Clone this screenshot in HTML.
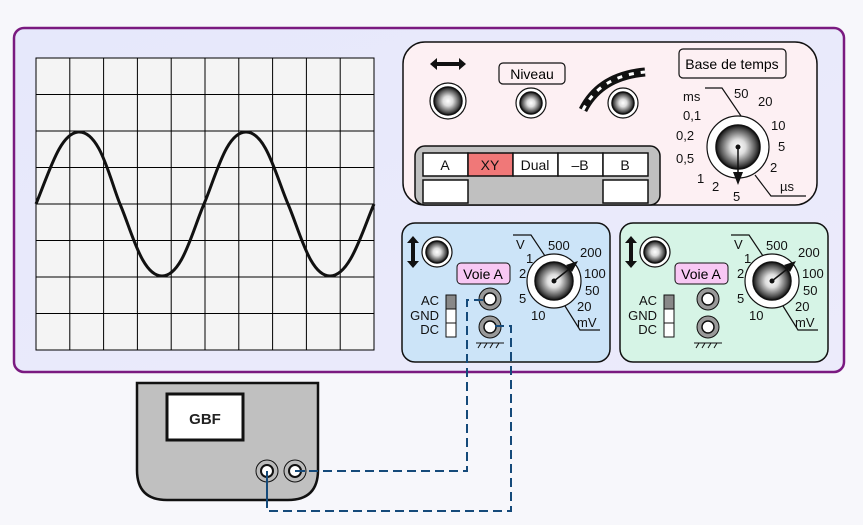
<!DOCTYPE html>
<html><head><meta charset="utf-8"><style>
html,body{margin:0;padding:0;background:#f7f7fb;}
svg{display:block;font-family:"Liberation Sans",sans-serif;}
</style></head><body>
<svg width="863" height="525" viewBox="0 0 863 525" xmlns="http://www.w3.org/2000/svg">
<defs>
<radialGradient id="kg" cx="50%" cy="50%" r="50%">
<stop offset="0" stop-color="#fff"/><stop offset="0.35" stop-color="#ddd"/><stop offset="0.8" stop-color="#555"/><stop offset="1" stop-color="#111"/>
</radialGradient>
<linearGradient id="bg" x1="0" y1="0" x2="1" y2="1"><stop offset="0" stop-color="#e6e8fb"/><stop offset="1" stop-color="#ecebfb"/></linearGradient>
</defs>
<rect width="863" height="525" fill="#f7f7fb"/>
<rect x="14" y="28" width="830" height="344" rx="10" fill="url(#bg)" stroke="#7a1a80" stroke-width="2.5"/>
<!-- screen -->
<rect x="36" y="58" width="338" height="292" fill="#f4f4f4" stroke="#000" stroke-width="1"/>
<g stroke="#000" stroke-width="1">
<line x1="69.8" y1="58" x2="69.8" y2="350"/><line x1="103.6" y1="58" x2="103.6" y2="350"/><line x1="137.4" y1="58" x2="137.4" y2="350"/><line x1="171.2" y1="58" x2="171.2" y2="350"/><line x1="205" y1="58" x2="205" y2="350"/><line x1="238.8" y1="58" x2="238.8" y2="350"/><line x1="272.6" y1="58" x2="272.6" y2="350"/><line x1="306.4" y1="58" x2="306.4" y2="350"/><line x1="340.2" y1="58" x2="340.2" y2="350"/>
<line x1="36" y1="94.5" x2="374" y2="94.5"/><line x1="36" y1="131" x2="374" y2="131"/><line x1="36" y1="167.5" x2="374" y2="167.5"/><line x1="36" y1="204" x2="374" y2="204"/><line x1="36" y1="240.5" x2="374" y2="240.5"/><line x1="36" y1="277" x2="374" y2="277"/><line x1="36" y1="313.5" x2="374" y2="313.5"/>
</g>
<path d="M36,204 C50,170 60,134 78,132 C100,130 110,180 120,204 C132,232 142,276 162,276 C182,276 192,232 204,204 C216,176 226,132 246,132 C266,132 276,176 288,204 C300,232 310,276 330,276 C350,276 362,232 374,204" fill="none" stroke="#111" stroke-width="3"/>
<!-- top panel -->
<rect x="403" y="42" width="414" height="163" rx="22" fill="#fdf0f3" stroke="#111" stroke-width="1.5"/>
<path d="M430,64 L437,58 L437,62 L459,62 L459,58 L466,64 L459,70 L459,66 L437,66 L437,70 Z" fill="#111"/>
<g stroke="#111">
<circle cx="448" cy="101" r="18" fill="#fff" stroke-width="1.2"/><circle cx="448" cy="101" r="14" fill="url(#kg)" stroke-width="1.5"/>
<circle cx="531" cy="103" r="15" fill="#fff" stroke-width="1.2"/><circle cx="531" cy="103" r="11" fill="url(#kg)" stroke-width="1.5"/>
<circle cx="623" cy="103" r="15" fill="#fff" stroke-width="1.2"/><circle cx="623" cy="103" r="11" fill="url(#kg)" stroke-width="1.5"/>
</g>
<rect x="499" y="63" width="66" height="21" rx="4" fill="#fdf0f3" stroke="#111" stroke-width="1.2"/>
<text x="532" y="79" font-size="14" text-anchor="middle">Niveau</text>
<path d="M583,110 Q600,76 645,72" fill="none" stroke="#111" stroke-width="9"/>
<path d="M583,110 Q600,76 645,72" fill="none" stroke="#fff" stroke-width="3" stroke-dasharray="5 7"/>
<rect x="679" y="49" width="107" height="29" rx="4" fill="#fdf0f3" stroke="#111" stroke-width="1.2"/>
<text x="732" y="69" font-size="14" text-anchor="middle">Base de temps</text>
<path d="M705,88 L722,88 L741,116" fill="none" stroke="#111" stroke-width="1.2"/>
<path d="M755,175 L771,196 L806,196" fill="none" stroke="#111" stroke-width="1.2"/>
<circle cx="738" cy="147" r="31" fill="#fff" stroke="#111" stroke-width="1.2"/>
<circle cx="738" cy="147" r="22" fill="url(#kg)" stroke="#111" stroke-width="1.5"/>
<circle cx="738" cy="147" r="2.5" fill="#111"/>
<line x1="738" y1="147" x2="738" y2="180" stroke="#111" stroke-width="1.5"/>
<path d="M733,172 L743,172 L738,185 Z" fill="#111"/>
<g font-size="13" fill="#111">
<text x="683" y="101">ms</text><text x="734" y="98">50</text><text x="758" y="106">20</text>
<text x="683" y="120">0,1</text><text x="676" y="140">0,2</text><text x="676" y="163">0,5</text>
<text x="771" y="130">10</text><text x="778" y="151">5</text><text x="770" y="172">2</text>
<text x="697" y="183">1</text><text x="712" y="191">2</text><text x="733" y="201">5</text><text x="780" y="191">µs</text>
</g>
<!-- mode panel -->
<rect x="415" y="146" width="245" height="59" rx="10" fill="#c0c0c0" stroke="#111" stroke-width="1.5"/>
<g stroke="#111" stroke-width="1.5">
<rect x="423" y="153" width="45" height="23" fill="#fff"/><rect x="468" y="153" width="45" height="23" fill="#f07878"/><rect x="513" y="153" width="45" height="23" fill="#fff"/><rect x="558" y="153" width="45" height="23" fill="#fff"/><rect x="603" y="153" width="45" height="23" fill="#fff"/>
<rect x="423" y="180" width="45" height="23" fill="#fff"/><rect x="603" y="180" width="45" height="23" fill="#fff"/>
</g>
<g font-size="14" text-anchor="middle" fill="#111">
<text x="445" y="170">A</text><text x="490" y="170">XY</text><text x="535" y="170">Dual</text><text x="580" y="170">–B</text><text x="625" y="170">B</text>
</g>
<!-- channel panels -->
<g id="ch">
<rect x="402" y="223" width="208" height="139" rx="13" fill="#cce4f8" stroke="#111" stroke-width="1.5"/>
</g>
<rect x="620" y="223" width="208" height="139" rx="13" fill="#d6f4e6" stroke="#111" stroke-width="1.5"/>
<g id="chA">
<path d="M413,236 L419,243 L415,243 L415,261 L419,261 L413,268 L407,261 L411,261 L411,243 L407,243 Z" fill="#111"/>
<circle cx="437" cy="252" r="15" fill="#fff" stroke="#111" stroke-width="1.2"/><circle cx="437" cy="252" r="11" fill="url(#kg)" stroke="#111" stroke-width="1.5"/>
<rect x="457" y="263" width="53" height="21" rx="4" fill="#f8c8f4" stroke="#111" stroke-width="1"/>
<text x="483" y="279" font-size="14" text-anchor="middle">Voie A</text>
<rect x="446" y="295" width="10" height="14" fill="#888" stroke="#111"/><rect x="446" y="309" width="10" height="14" fill="#fff" stroke="#111"/><rect x="446" y="323" width="10" height="14" fill="#fff" stroke="#111"/>
<g font-size="13" text-anchor="end" fill="#111"><text x="439" y="305">AC</text><text x="439" y="320">GND</text><text x="439" y="334">DC</text></g>
<circle cx="490" cy="299" r="11" fill="#999" stroke="#111" stroke-width="1"/><circle cx="490" cy="299" r="6" fill="#fff" stroke="#111" stroke-width="1.5"/>
<circle cx="490" cy="327" r="11" fill="#999" stroke="#111" stroke-width="1"/><circle cx="490" cy="327" r="6" fill="#fff" stroke="#111" stroke-width="1.5"/>
<path d="M476,343 L504,343 M478,348 L481,343 M484,348 L487,343 M490,348 L493,343 M496,348 L499,343" stroke="#111" stroke-width="1"/>
<path d="M513,235 L531,235 L545,256" fill="none" stroke="#111" stroke-width="1.2"/>
<path d="M565,306 L580,330 L600,330" fill="none" stroke="#111" stroke-width="1.2"/>
<circle cx="554" cy="281" r="27" fill="#fff" stroke="#111" stroke-width="1.2"/>
<circle cx="554" cy="281" r="19" fill="url(#kg)" stroke="#111" stroke-width="1.5"/>
<circle cx="554" cy="281" r="2.5" fill="#111"/>
<line x1="554" y1="281" x2="573" y2="266" stroke="#111" stroke-width="1.5"/>
<path d="M578,261 L566,265 L572,272 Z" fill="#111"/>
<g font-size="13" fill="#111">
<text x="516" y="249">V</text><text x="548" y="250">500</text><text x="580" y="257">200</text>
<text x="526" y="263">1</text><text x="519" y="278">2</text><text x="519" y="303">5</text><text x="531" y="320">10</text>
<text x="584" y="278">100</text><text x="585" y="295">50</text><text x="577" y="311">20</text><text x="577" y="327">mV</text>
</g>
</g>
<use href="#chA" x="218" y="0"/>
<!-- GBF -->
<path d="M137,383 L318,383 L318,470 Q318,500 288,500 L167,500 Q137,500 137,470 Z" fill="#c0c0c0" stroke="#111" stroke-width="2.5"/>
<rect x="167" y="394" width="76" height="46" fill="#fff" stroke="#111" stroke-width="3"/>
<text x="205" y="424" font-size="15" font-weight="bold" text-anchor="middle" fill="#222">GBF</text>
<circle cx="267" cy="471" r="11" fill="#bbb" stroke="#111" stroke-width="1"/><circle cx="267" cy="471" r="6" fill="#fff" stroke="#111" stroke-width="2"/>
<circle cx="295" cy="471" r="11" fill="#bbb" stroke="#111" stroke-width="1"/><circle cx="295" cy="471" r="6" fill="#fff" stroke="#111" stroke-width="2"/>
<!-- wires -->
<g fill="none" stroke="#154a7a" stroke-width="2">
<path d="M295,471 L467,471 L467,300 L488,300" stroke-dasharray="9 5"/>
<path d="M267,471 L267,511 L511,511 L511,326 L490,326" stroke-dasharray="9 5"/>
<line x1="267" y1="471" x2="267" y2="505"/>
<line x1="295" y1="471" x2="305" y2="471"/>
</g>
</svg>
</body></html>
